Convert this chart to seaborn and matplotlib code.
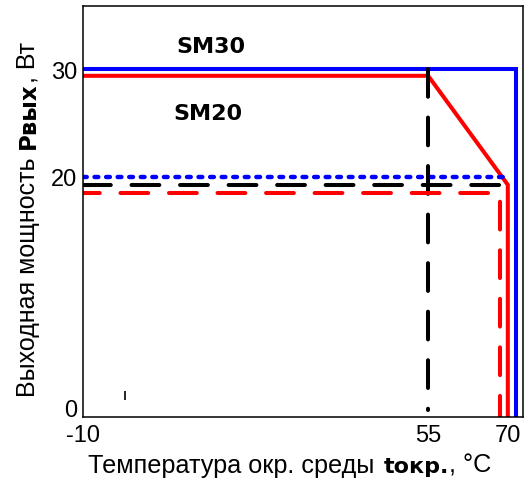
import numpy as np
import matplotlib
matplotlib.use("Agg")
import matplotlib.pyplot as plt
import matplotlib.text as mtext
import seaborn as sns

# ---- data ----
x_ticks = [-10, 55, 70]
y_ticks = [0, 20, 30]

sm30_x = [-10, 71.5, 71.5]
sm30_y = [30, 30, -0.87]

sm20_x = [-10, 55, 70, 70]
sm20_y = [29.4, 29.4, 19.3, -0.87]

blue_dot_x = [-10, 70.4]
blue_dot_y = [20, 20]

black_h_x = [-10, 70]
black_h_y = [19.3, 19.3]

black_v_x = [55, 55]
black_v_y = [30, -0.3]

red_dash_x = [-10, 68.6, 68.6]
red_dash_y = [18.6, 18.6, -0.87]

mark_x = [-2, -2]
mark_y = [0.6, 1.36]

labels = ["SM30", "SM20"]
label_x = [14.1, 13.6]
label_y = [31.6, 25.37]

xlabel_parts = ["Температура окр. среды", "tокр.", ", °C"]
ylabel_parts = ["Выходная мощность", "Рвых", ", Вт"]
label_bold = [False, True, False]

# ---- style ----
sns.set_style("white")
plt.rcParams["font.family"] = ["Liberation Sans", "DejaVu Sans"]

fig = plt.figure(figsize=(5.31, 4.81), dpi=100)
ax = fig.add_axes([83 / 531, 1 - 418 / 481, 440 / 531, (418 - 7.3) / 481])

# piecewise-linear y axis (drawing is not to scale)
YK = np.array([-10.0, 0.0, 20.0, 30.0, 100.0])
TK = np.array([-115.25, 0.0, 230.5, 338.0, 338.0 + 70 * 10.7])
ax.set_yscale("function", functions=(lambda y: np.interp(y, YK, TK),
                                      lambda t: np.interp(t, TK, YK)))

def line(x, y, **kw):
    sns.lineplot(x=x, y=y, ax=ax, sort=False, estimator=None, legend=False, **kw)

line(sm30_x, sm30_y, color="#0000ff", lw=2.9, solid_joinstyle="miter")
line(sm20_x, sm20_y, color="#ff0000", lw=2.9, solid_joinstyle="miter")
line(blue_dot_x, blue_dot_y, color="#0000ff", lw=3.2,
     linestyle=(0, (0.84, 1.76)), dash_capstyle="round")
line(black_h_x, black_h_y, color="black", lw=2.9,
     linestyle=(0, (6.9, 5.15)), dash_capstyle="round")
line(black_v_x, black_v_y, color="black", lw=2.9,
     linestyle=(0, (6.9, 5.15)), dash_capstyle="round")
line(red_dash_x, red_dash_y, color="#ff0000", lw=2.9,
     linestyle=(2.75, (6.9, 5.15)), dash_capstyle="round")
line(mark_x, mark_y, color="black", lw=1.2, solid_capstyle="butt")

for t, xx, yy in zip(labels, label_x, label_y):
    ax.text(xx, yy, t, ha="center", va="baseline", fontsize=16,
            fontweight="bold", family="DejaVu Sans", color="black")

ax.set_xlim(-10, 72.86)
ax.set_ylim(-0.868, 35.9)
ax.set_xticks(x_ticks)
ax.set_xticklabels([str(v) for v in x_ticks])
ax.set_yticks(y_ticks)
ax.set_yticklabels([str(v) for v in y_ticks])
ax.tick_params(axis="both", length=0, labelsize=17, colors="black")
ax.tick_params(axis="x", pad=5.0)
ax.tick_params(axis="y", pad=4.0)

for s in ax.spines.values():
    s.set_color("black")
    s.set_linewidth(1.1)

FAM = ["Liberation Sans", "DejaVu Sans"]
X_STY = [dict(family=FAM, fontsize=18.2, color="black"),
         dict(family="DejaVu Sans", fontweight="bold", fontsize=16, color="black"),
         dict(family=FAM, fontsize=18.2, color="black")]
Y_STY = [dict(family=FAM, fontsize=18.0, color="black"),
         dict(family="DejaVu Sans", fontweight="bold", fontsize=16.5, color="black"),
         dict(family=FAM, fontsize=18.0, color="black")]
X_GAP = [0, 6.5, 0]   # points
Y_GAP = [0, 6.0, 0]

# x label (mixed regular / bold), baseline at 473 px from top
base_y = 481 - 473
prev = fig.text(88 / 531, base_y / 481, xlabel_parts[0], ha="left", va="baseline", **X_STY[0])
for i in (1, 2):
    prev = fig.add_artist(
        mtext.Annotation(xlabel_parts[i], xy=(1, base_y), xycoords=(prev, "figure pixels"),
                         xytext=(X_GAP[i], 0), textcoords="offset points",
                         ha="left", va="baseline", **X_STY[i]))

# y label (rotated, mixed), baseline at x=35 px, starting 397 px from top
base_x = 35
prev = fig.text(base_x / 531, (481 - 397) / 481, ylabel_parts[0], rotation=90,
                rotation_mode="anchor", ha="left", va="baseline", **Y_STY[0])
for i in (1, 2):
    prev = fig.add_artist(
        mtext.Annotation(ylabel_parts[i], xy=(base_x, 1), xycoords=("figure pixels", prev),
                         xytext=(0, Y_GAP[i]), textcoords="offset points",
                         rotation=90, rotation_mode="anchor",
                         ha="left", va="baseline", **Y_STY[i]))

fig.savefig("out.png", dpi=100)
